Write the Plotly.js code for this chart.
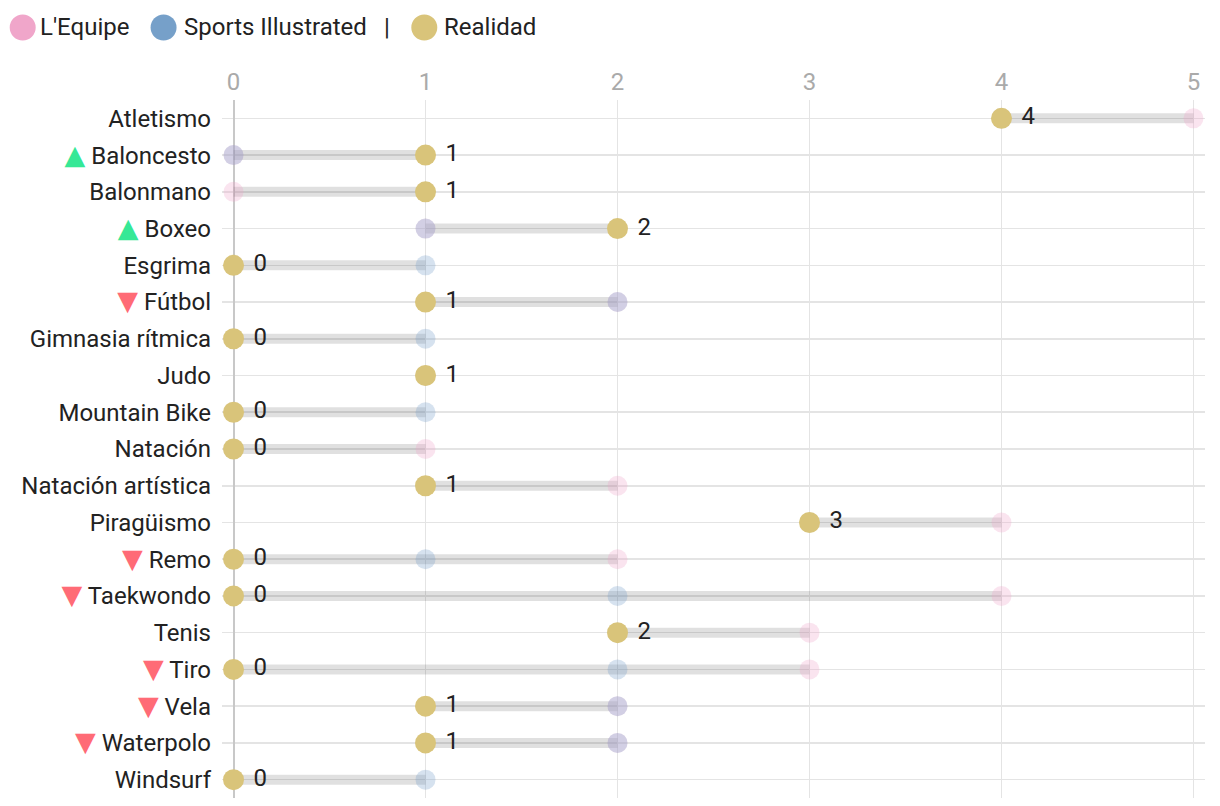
<!DOCTYPE html>
<html>
<head>
<meta charset="utf-8">
<script src="https://cdn.plot.ly/plotly-3.0.1.min.js"></script>
<style>html,body{margin:0;padding:0;background:#fff;}#chart{width:1220px;height:806px;}</style>
</head>
<body>
<div id="chart"></div>
<script>
// ---- data ----
var sports = ["Atletismo","Baloncesto","Balonmano","Boxeo","Esgrima","Fútbol","Gimnasia rítmica","Judo","Mountain Bike","Natación","Natación artística","Piragüismo","Remo","Taekwondo","Tenis","Tiro","Vela","Waterpolo","Windsurf"];
var lequipe   = [5,0,0,1,0,2,0,1,0,1,2,4,2,4,3,3,2,2,0];
var sportsIll = [4,0,1,1,1,2,1,1,1,0,1,3,1,2,2,2,2,2,1];
var realidad  = [4,1,1,2,0,1,0,1,0,0,1,3,0,0,2,0,1,1,0];
var xTicks = [0,1,2,3,4,5];
var legendNames = ["L'Equipe","Sports Illustrated","Realidad"];

// ---- style ----
var C_PINK = "#f0a6ca", C_BLUE = "#76a0c9", C_GOLD = "#d9c47a";
var C_UP = "#36e896", C_DOWN = "#ff6b76";
var FONT = "Roboto, 'Noto Sans', sans-serif";
var FS = 24;

function arrow(ch, col){
  return '<span style="color:'+col+';font-family:\'DejaVu Sans\';font-size:27px">'+ch+'</span> ';
}
var tickText = sports.map(function(s, i){
  if (realidad[i] > Math.max(lequipe[i], sportsIll[i])) return arrow('▲', C_UP) + s;
  if (realidad[i] < Math.min(lequipe[i], sportsIll[i])) return arrow('▼', C_DOWN) + s;
  return s;
});

// connector segments
var segX = [], segY = [];
sports.forEach(function(s, i){
  var mn = Math.min(lequipe[i], sportsIll[i], realidad[i]);
  var mx = Math.max(lequipe[i], sportsIll[i], realidad[i]);
  if (mx > mn) { segX.push(mn, mx, null); segY.push(s, s, null); }
});

var traces = [
  {type:"scatter", mode:"lines", x:segX, y:segY, line:{color:"rgba(0,0,0,0.12)", width:10}, hoverinfo:"skip", showlegend:false},
  {type:"scatter", mode:"markers", name:legendNames[0], x:lequipe, y:sports,
   marker:{color:C_PINK, size:20, opacity:0.3}, showlegend:false},
  {type:"scatter", mode:"markers", name:legendNames[1], x:sportsIll, y:sports,
   marker:{color:C_BLUE, size:20, opacity:0.3}, showlegend:false},
  {type:"scatter", mode:"markers+text", name:legendNames[2], x:realidad, y:sports,
   text:realidad.map(function(v){ return '\u00a0' + v; }), textposition:"middle right",
   textfont:{family:FONT, size:FS, color:"#222"},
   marker:{color:C_GOLD, size:21}, showlegend:false}
];

// geometry
var W = 1220, H = 806;
var mL = 221.5, mR = 14.5, mT = 99.6, mB = 7.6;
var pw = W - mL - mR, ph = H - mT - mB;
function px(xp){ return (xp - mL) / pw; }
function py(yp){ return (H - mB - yp) / ph; }

// custom legend
var legItems = [
  {cx:22, color:C_PINK, tx:37, name:legendNames[0]},
  {cx:163, color:C_BLUE, tx:181, name:legendNames[1]},
  {cx:424, color:C_GOLD, tx:442, name:legendNames[2]}
];
var shapes = [], annotations = [];
var ly = 27;
legItems.forEach(function(it){
  shapes.push({type:"circle", xref:"paper", yref:"paper", xsizemode:"pixel", ysizemode:"pixel",
    xanchor:px(it.cx), yanchor:py(ly), x0:-13, x1:13, y0:-13, y1:13,
    fillcolor:it.color, line:{width:0}});
  annotations.push({xref:"paper", yref:"paper", x:px(it.tx), y:py(ly), xanchor:"left", yanchor:"middle",
    text:it.name, showarrow:false, font:{family:FONT, size:FS, color:"#222"}});
});
annotations.push({xref:"paper", yref:"paper", x:px(387), y:py(ly), xanchor:"center", yanchor:"middle",
  text:"|", showarrow:false, font:{family:FONT, size:FS, color:"#222"}});

var layout = {
  width:W, height:H,
  margin:{l:mL, r:mR, t:mT, b:mB, pad:0},
  paper_bgcolor:"#fff", plot_bgcolor:"#fff",
  font:{family:FONT, size:FS, color:"#222"},
  showlegend:false,
  xaxis:{side:"top", range:[-0.06,5.06], tickvals:xTicks, ticktext:xTicks.map(String),
    showgrid:true, gridcolor:"#e4e4e4", gridwidth:1.6,
    zeroline:true, zerolinecolor:"#c8c8c8", zerolinewidth:2,
    showline:false, ticks:"", ticklabelstandoff:4, tickfont:{family:FONT, size:FS, color:"#aaa"}, fixedrange:true},
  yaxis:{type:"category", autorange:false, range:[18.5,-0.5], categoryorder:"array", categoryarray:sports,
    tickvals:sports, ticktext:tickText,
    showgrid:true, gridcolor:"#e4e4e4", gridwidth:1.6, zeroline:false, showline:false,
    ticks:"", ticklabelstandoff:10, tickfont:{family:FONT, size:FS, color:"#222"}, fixedrange:true},
  shapes:shapes, annotations:annotations
};

Plotly.newPlot("chart", traces, layout, {displayModeBar:false, staticPlot:true});
</script>
</body>
</html>
